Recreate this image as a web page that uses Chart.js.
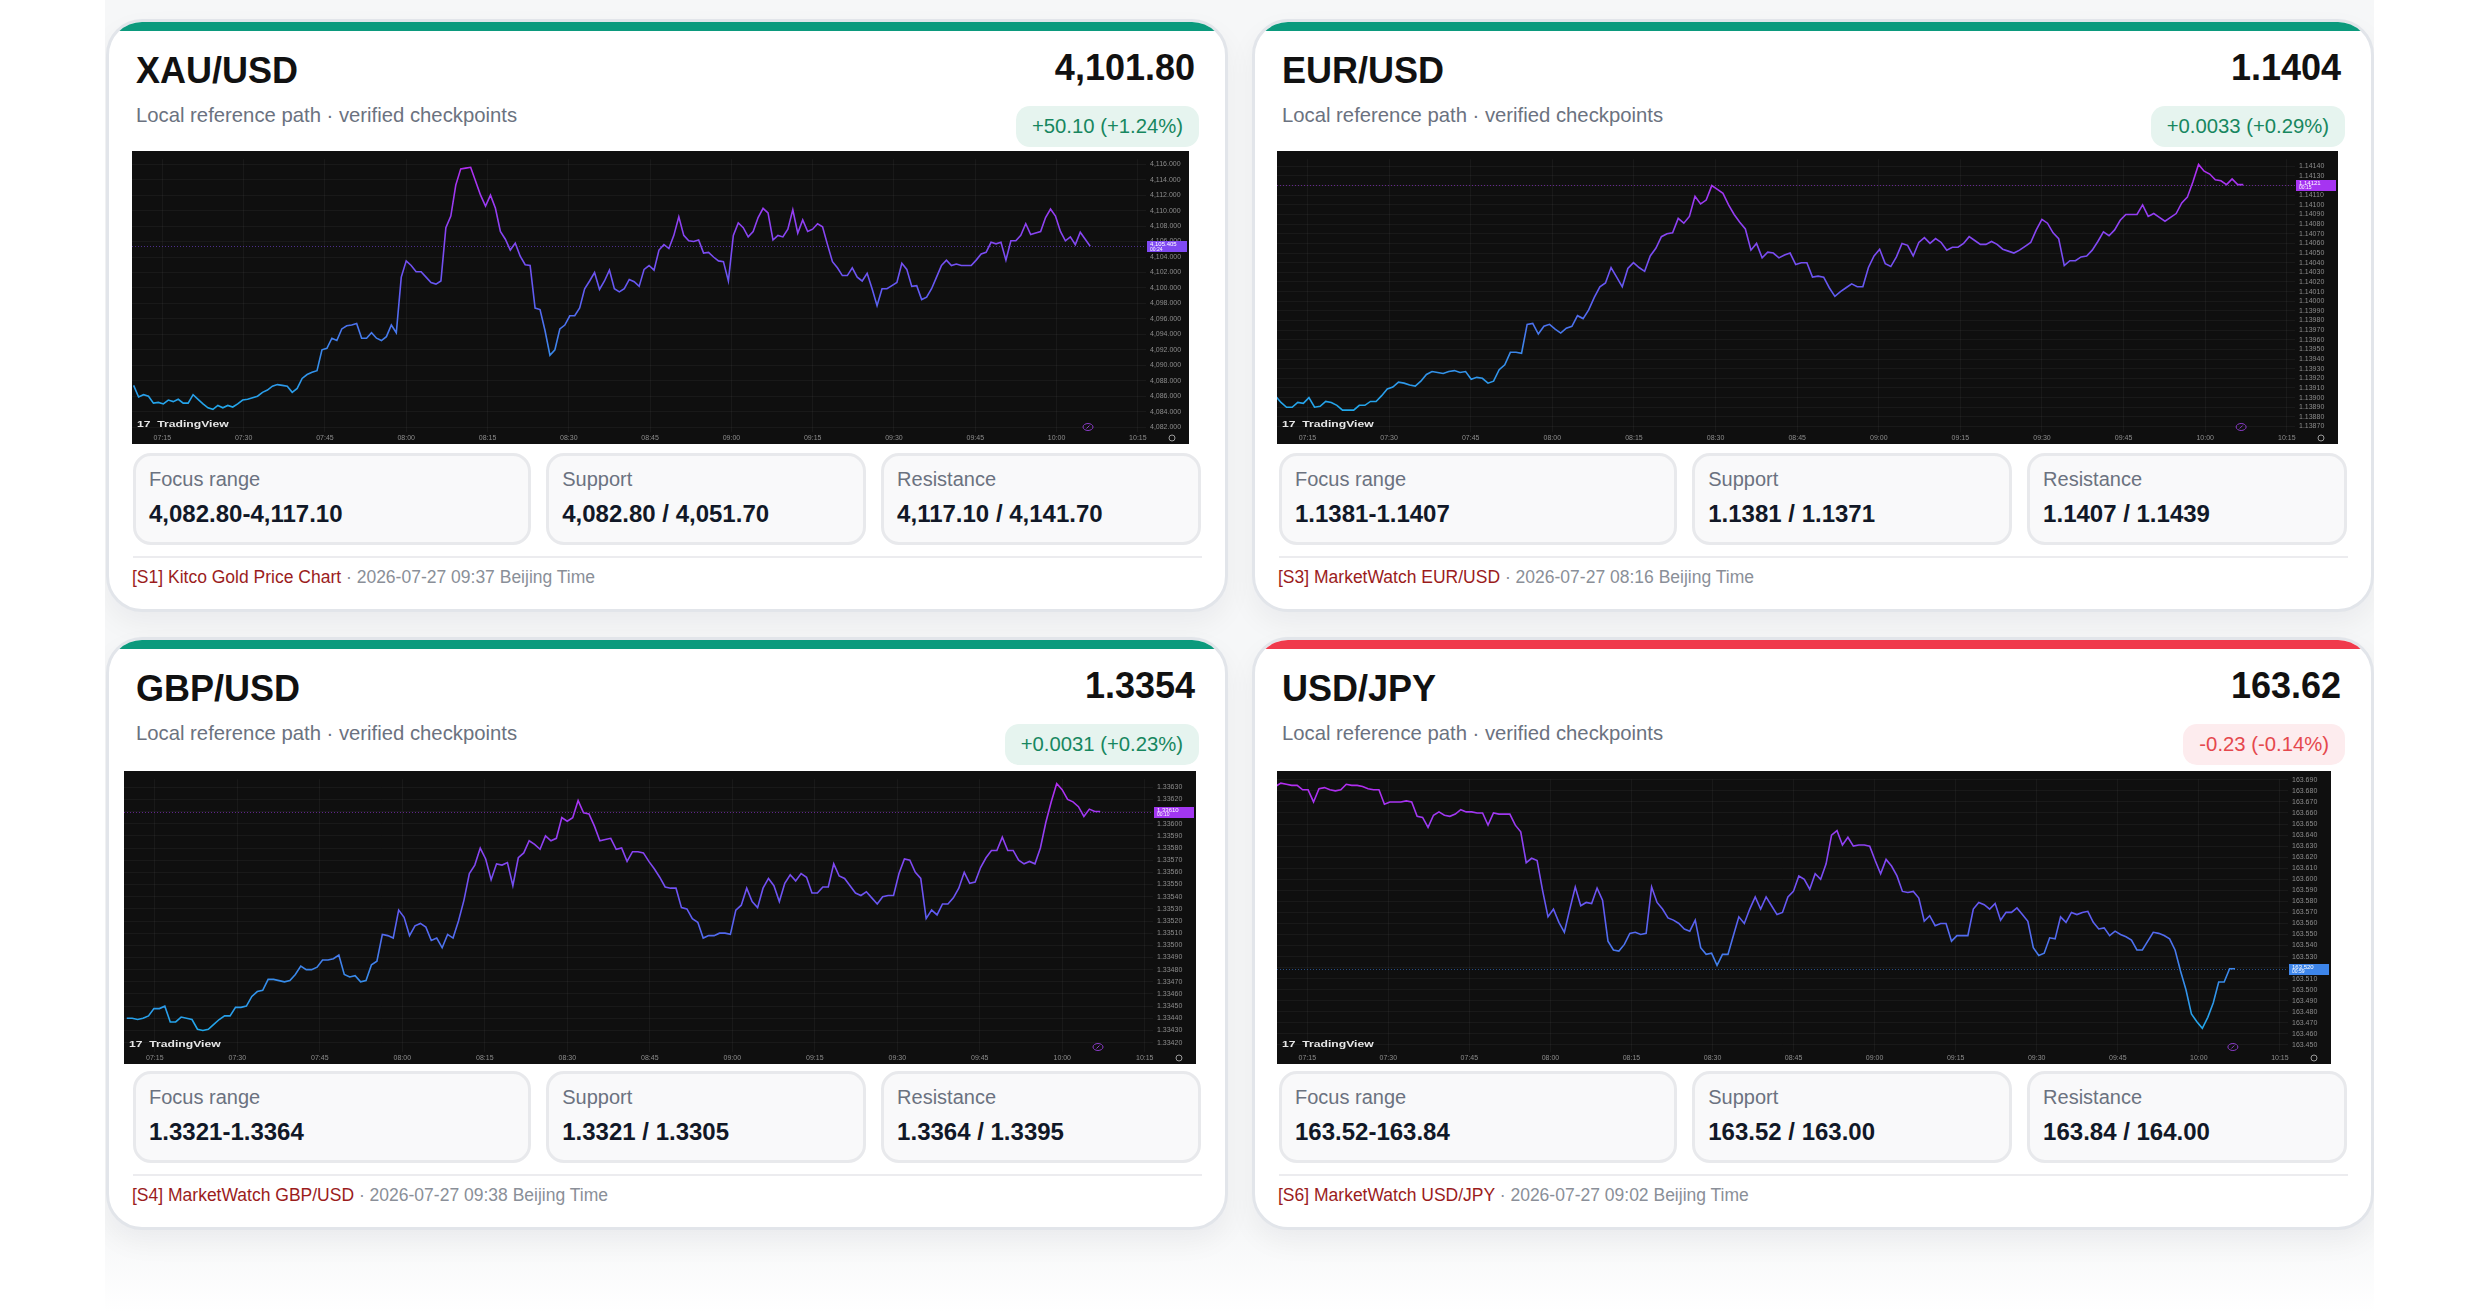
<!DOCTYPE html>
<html>
<head>
<meta charset="utf-8">
<script src="https://cdn.jsdelivr.net/npm/chart.js@4.4.1/dist/chart.umd.min.js"></script>
<style>
html, body { margin: 0; padding: 0; background: #fff; }
body { width: 2480px; height: 1313px; position: relative; overflow: hidden; font-family: "Liberation Sans", Arial, Helvetica, sans-serif; }
.stage { position: absolute; left: 105px; top: 0; width: 2269px; height: 1313px; overflow: hidden;
  background: linear-gradient(180deg, #f6f7f8 0, #f6f7f8 1228px, #fff 1313px); }
.card { position: absolute; width: 1122px; height: 593px; box-sizing: border-box; background: #fff;
  border: 3px solid #e2e5ea; border-radius: 36px; overflow: hidden; box-shadow: 0 12px 28px rgba(15, 23, 42, .05); }
.card::before { content: ""; position: absolute; left: 0; right: 0; top: 0; height: 9px; background: var(--accent); }
.title { position: absolute; left: 27px; top: 31px; font-size: 36px; line-height: 36px; font-weight: 700; color: #111; }
.price { position: absolute; right: 30px; top: 28px; font-size: 36px; line-height: 36px; font-weight: 700; color: #111; }
.sub { position: absolute; left: 27px; top: 83px; font-size: 20.3px; line-height: 20px; color: #6b7280; }
.badge { position: absolute; right: 26px; top: 84px; height: 41px; line-height: 41px; padding: 0 16px; border-radius: 14px; font-size: 20.3px; }
.up { background: #e6f4ef; color: #17875f; }
.down { background: #fdecee; color: #e5484d; }
.chart { position: absolute; height: 293px; background: #0f0f0f; }
.chart canvas { display: block; }
.stats { position: absolute; left: 24px; top: 431px; width: 1068px; height: 92px; display: grid;
  grid-template-columns: 1.245fr 1fr 1fr; column-gap: 15px; }
.stat { position: relative; box-sizing: border-box; border: 3px solid #e8e9ec; border-radius: 18px; background: #f9f9fa; }
.lab { position: absolute; left: 13px; top: 13px; font-size: 20px; line-height: 20px; color: #6b7280; }
.val { position: absolute; left: 13px; top: 46px; font-size: 24px; line-height: 24px; font-weight: 700; color: #111827; }
.rule { position: absolute; left: 24px; top: 534px; width: 1069px; height: 2px; background: #ececef; }
.src { position: absolute; left: 23px; top: 547px; font-size: 17.5px; line-height: 17.5px; color: #8a8f98; white-space: nowrap; }
.src .ref { color: #9b1c1c; }
</style>
</head>
<body>
<div class="stage">

  <div class="card" style="left:1px;top:19px;--accent:#0b9a7d">
    <div class="title">XAU/USD</div>
    <div class="price">4,101.80</div>
    <div class="sub">Local reference path · verified checkpoints</div>
    <div class="badge up">+50.10 (+1.24%)</div>
    <div class="chart" style="left:23px;top:129px;width:1057px"><canvas id="c1"></canvas></div>
    <div class="stats">
      <div class="stat"><div class="lab">Focus range</div><div class="val">4,082.80-4,117.10</div></div>
      <div class="stat"><div class="lab">Support</div><div class="val">4,082.80 / 4,051.70</div></div>
      <div class="stat"><div class="lab">Resistance</div><div class="val">4,117.10 / 4,141.70</div></div>
    </div>
    <div class="rule"></div>
    <div class="src"><span class="ref">[S1] Kitco Gold Price Chart</span> · 2026-07-27 09:37 Beijing Time</div>
  </div>

  <div class="card" style="left:1147px;top:19px;--accent:#0b9a7d">
    <div class="title">EUR/USD</div>
    <div class="price">1.1404</div>
    <div class="sub">Local reference path · verified checkpoints</div>
    <div class="badge up">+0.0033 (+0.29%)</div>
    <div class="chart" style="left:22px;top:129px;width:1061px"><canvas id="c2"></canvas></div>
    <div class="stats">
      <div class="stat"><div class="lab">Focus range</div><div class="val">1.1381-1.1407</div></div>
      <div class="stat"><div class="lab">Support</div><div class="val">1.1381 / 1.1371</div></div>
      <div class="stat"><div class="lab">Resistance</div><div class="val">1.1407 / 1.1439</div></div>
    </div>
    <div class="rule"></div>
    <div class="src"><span class="ref">[S3] MarketWatch EUR/USD</span> · 2026-07-27 08:16 Beijing Time</div>
  </div>

  <div class="card" style="left:1px;top:637px;--accent:#0b9a7d">
    <div class="title">GBP/USD</div>
    <div class="price">1.3354</div>
    <div class="sub">Local reference path · verified checkpoints</div>
    <div class="badge up">+0.0031 (+0.23%)</div>
    <div class="chart" style="left:15px;top:131px;width:1072px"><canvas id="c3"></canvas></div>
    <div class="stats">
      <div class="stat"><div class="lab">Focus range</div><div class="val">1.3321-1.3364</div></div>
      <div class="stat"><div class="lab">Support</div><div class="val">1.3321 / 1.3305</div></div>
      <div class="stat"><div class="lab">Resistance</div><div class="val">1.3364 / 1.3395</div></div>
    </div>
    <div class="rule"></div>
    <div class="src"><span class="ref">[S4] MarketWatch GBP/USD</span> · 2026-07-27 09:38 Beijing Time</div>
  </div>

  <div class="card" style="left:1147px;top:637px;--accent:#f03a4c">
    <div class="title">USD/JPY</div>
    <div class="price">163.62</div>
    <div class="sub">Local reference path · verified checkpoints</div>
    <div class="badge down">-0.23 (-0.14%)</div>
    <div class="chart" style="left:22px;top:131px;width:1054px"><canvas id="c4"></canvas></div>
    <div class="stats">
      <div class="stat"><div class="lab">Focus range</div><div class="val">163.52-163.84</div></div>
      <div class="stat"><div class="lab">Support</div><div class="val">163.52 / 163.00</div></div>
      <div class="stat"><div class="lab">Resistance</div><div class="val">163.84 / 164.00</div></div>
    </div>
    <div class="rule"></div>
    <div class="src"><span class="ref">[S6] MarketWatch USD/JPY</span> · 2026-07-27 09:02 Beijing Time</div>
  </div>

</div>
<script>
// shared time axis (minutes after 07:00 on the scale)
const timeTicks = ['07:15', '07:30', '07:45', '08:00', '08:15', '08:30', '08:45', '09:00', '09:15', '09:30', '09:45', '10:00', '10:15'];
const timeWindow = [9.4, 196.5];

// XAU/USD
const xauValues = [
  4087.4, 4085.9, 4086.2, 4086.0, 4085.1, 4085.2, 4085.0, 4085.5, 4085.3, 4085.6,
  4085.1, 4085.1, 4086.2, 4085.6, 4085.0, 4084.5, 4084.3, 4084.8, 4084.5, 4084.8,
  4084.6, 4085.0, 4085.5, 4085.6, 4085.8, 4086.0, 4086.5, 4086.8, 4087.3, 4087.5,
  4087.4, 4087.3, 4086.5, 4087.0, 4088.3, 4088.8, 4089.1, 4089.3, 4092.0, 4092.2,
  4093.5, 4093.2, 4094.7, 4095.1, 4095.2, 4095.4, 4093.5, 4093.5, 4094.2, 4093.5,
  4093.2, 4093.7, 4095.2, 4094.2, 4101.4, 4103.5, 4102.9, 4102.1, 4102.1, 4101.4,
  4100.7, 4100.5, 4100.9, 4107.8, 4109.3, 4113.3, 4115.4, 4115.5, 4115.6, 4113.8,
  4112.0, 4110.6, 4112.0, 4110.3, 4107.3, 4106.3, 4104.9, 4105.8, 4104.1, 4103.0,
  4102.9, 4097.4, 4097.2, 4094.5, 4091.3, 4092.0, 4094.7, 4095.2, 4096.4, 4096.4,
  4097.4, 4099.9, 4100.9, 4102.0, 4099.8, 4100.9, 4102.3, 4099.9, 4099.5, 4099.9,
  4101.1, 4100.8, 4100.2, 4102.4, 4102.9, 4102.3, 4104.9, 4105.6, 4105.1, 4106.8,
  4109.2, 4106.8, 4106.1, 4106.0, 4106.2, 4104.5, 4104.6, 4104.0, 4103.5, 4103.4,
  4100.9, 4106.8, 4108.4, 4107.8, 4106.6, 4107.3, 4109.1, 4110.3, 4109.7, 4106.2,
  4106.8, 4106.6, 4107.6, 4110.1, 4107.1, 4108.8, 4107.3, 4107.6, 4108.3, 4107.9,
  4105.6, 4103.4, 4102.6, 4101.6, 4101.6, 4102.6, 4101.4, 4100.9, 4101.9, 4099.9,
  4097.7, 4099.9, 4099.9, 4100.3, 4100.7, 4103.2, 4102.4, 4100.2, 4100.3, 4098.5,
  4098.8, 4099.9, 4101.4, 4102.9, 4103.6, 4102.9, 4103.1, 4102.9, 4102.9, 4102.9,
  4103.6, 4104.4, 4104.6, 4105.9, 4105.7, 4105.9, 4103.6, 4106.1, 4106.1, 4106.8,
  4108.3, 4106.9, 4107.1, 4107.3, 4109.1, 4110.2, 4109.3, 4107.3, 4106.1, 4106.6,
  4105.6, 4107.2, 4106.3, 4105.4
];
const xauTicks = ['4,082.000', '4,084.000', '4,086.000', '4,088.000', '4,090.000', '4,092.000', '4,094.000', '4,096.000', '4,098.000',
  '4,100.000', '4,102.000', '4,104.000', '4,106.000', '4,108.000', '4,110.000', '4,112.000', '4,114.000', '4,116.000'];
const xauRange = [4081.37, 4116.65];
const xauSpan = [9.7, 186.2];
const xauLast = ['4,105.405', '00:24'];

// EUR/USD
const eurValues = [
  1.13902, 1.13895, 1.13890, 1.13890, 1.13895, 1.13894, 1.13900, 1.13890, 1.13891, 1.13896,
  1.13895, 1.13892, 1.13887, 1.13887, 1.13887, 1.13892, 1.13892, 1.13896, 1.13896, 1.13902,
  1.13909, 1.13911, 1.13916, 1.13915, 1.13913, 1.13912, 1.13917, 1.13924, 1.13927, 1.13926,
  1.13925, 1.13927, 1.13928, 1.13926, 1.13927, 1.13919, 1.13921, 1.13920, 1.13915, 1.13917,
  1.13929, 1.13934, 1.13947, 1.13947, 1.13946, 1.13976, 1.13977, 1.13966, 1.13974, 1.13976,
  1.13971, 1.13967, 1.13972, 1.13974, 1.13985, 1.13982, 1.13991, 1.14004, 1.14015, 1.14019,
  1.14035, 1.14025, 1.14015, 1.14034, 1.14040, 1.14035, 1.14031, 1.14047, 1.14055, 1.14067,
  1.14070, 1.14071, 1.14086, 1.14081, 1.14088, 1.14109, 1.14101, 1.14105, 1.14120, 1.14116,
  1.14112, 1.14100, 1.14090, 1.14082, 1.14075, 1.14053, 1.14060, 1.14045, 1.14051, 1.14050,
  1.14045, 1.14048, 1.14050, 1.14038, 1.14040, 1.14040, 1.14025, 1.14026, 1.14025, 1.14014,
  1.14005, 1.14010, 1.14014, 1.14018, 1.14015, 1.14015, 1.14035, 1.14047, 1.14054, 1.14039,
  1.14036, 1.14046, 1.14060, 1.14058, 1.14047, 1.14061, 1.14066, 1.14060, 1.14065, 1.14061,
  1.14053, 1.14056, 1.14056, 1.14060, 1.14067, 1.14063, 1.14059, 1.14059, 1.14062, 1.14059,
  1.14054, 1.14052, 1.14050, 1.14053, 1.14057, 1.14061, 1.14074, 1.14085, 1.14081, 1.14071,
  1.14065, 1.14037, 1.14042, 1.14042, 1.14046, 1.14047, 1.14053, 1.14062, 1.14072, 1.14068,
  1.14074, 1.14084, 1.14090, 1.14090, 1.14090, 1.14100, 1.14088, 1.14091, 1.14087, 1.14083,
  1.14087, 1.14091, 1.14102, 1.14108, 1.14124, 1.14142, 1.14135, 1.14132, 1.14126, 1.14125,
  1.14121, 1.14127, 1.14121, 1.14121
];
const eurTicks = ['1.13870', '1.13880', '1.13890', '1.13900', '1.13910', '1.13920', '1.13930', '1.13940', '1.13950', '1.13960',
  '1.13970', '1.13980', '1.13990', '1.14000', '1.14010', '1.14020', '1.14030', '1.14040', '1.14050', '1.14060',
  '1.14070', '1.14080', '1.14090', '1.14100', '1.14110', '1.14120', '1.14130', '1.14140'];
const eurRange = [1.138643, 1.141474];
const eurSpan = [9.1, 187.0];
const eurLast = ['1.14121', '00:15'];

// GBP/USD
const gbpValues = [
  1.33440, 1.33440, 1.33439, 1.33440, 1.33442, 1.33448, 1.33448, 1.33450, 1.33437, 1.33437,
  1.33441, 1.33440, 1.33439, 1.33431, 1.33430, 1.33431, 1.33435, 1.33439, 1.33442, 1.33442,
  1.33449, 1.33449, 1.33450, 1.33458, 1.33462, 1.33463, 1.33472, 1.33472, 1.33471, 1.33470,
  1.33471, 1.33476, 1.33483, 1.33480, 1.33480, 1.33482, 1.33488, 1.33488, 1.33489, 1.33492,
  1.33476, 1.33474, 1.33475, 1.33470, 1.33471, 1.33484, 1.33487, 1.33509, 1.33508, 1.33506,
  1.33529, 1.33523, 1.33508, 1.33516, 1.33518, 1.33515, 1.33504, 1.33506, 1.33498, 1.33509,
  1.33506, 1.33520, 1.33537, 1.33559, 1.33566, 1.33580, 1.33571, 1.33554, 1.33567, 1.33566,
  1.33568, 1.33549, 1.33572, 1.33576, 1.33586, 1.33583, 1.33579, 1.33590, 1.33586, 1.33588,
  1.33605, 1.33602, 1.33605, 1.33619, 1.33609, 1.33608, 1.33598, 1.33586, 1.33587, 1.33588,
  1.33579, 1.33580, 1.33569, 1.33577, 1.33577, 1.33576, 1.33569, 1.33563, 1.33556, 1.33548,
  1.33547, 1.33547, 1.33531, 1.33530, 1.33522, 1.33519, 1.33506, 1.33508, 1.33508, 1.33510,
  1.33510, 1.33509, 1.33529, 1.33533, 1.33547, 1.33536, 1.33531, 1.33547, 1.33555, 1.33549,
  1.33536, 1.33551, 1.33558, 1.33553, 1.33559, 1.33556, 1.33543, 1.33543, 1.33548, 1.33548,
  1.33567, 1.33557, 1.33555, 1.33549, 1.33543, 1.33541, 1.33544, 1.33539, 1.33534, 1.33540,
  1.33541, 1.33541, 1.33559, 1.33571, 1.33570, 1.33560, 1.33555, 1.33522, 1.33529, 1.33525,
  1.33534, 1.33534, 1.33539, 1.33547, 1.33560, 1.33551, 1.33552, 1.33564, 1.33572, 1.33578,
  1.33578, 1.33589, 1.33578, 1.33578, 1.33570, 1.33567, 1.33569, 1.33567, 1.33580, 1.33601,
  1.33618, 1.33633, 1.33628, 1.33620, 1.33618, 1.33614, 1.33606, 1.33612, 1.33610, 1.33610
];
const gbpTicks = ['1.33420', '1.33430', '1.33440', '1.33450', '1.33460', '1.33470', '1.33480', '1.33490', '1.33500', '1.33510',
  '1.33520', '1.33530', '1.33540', '1.33550', '1.33560', '1.33570', '1.33580', '1.33590', '1.33600', '1.33610',
  '1.33620', '1.33630'];
const gbpRange = [1.334123, 1.336366];
const gbpSpan = [9.9, 186.9];
const gbpLast = ['1.33610', '00:10'];

// USD/JPY
const jpyValues = [
  163.684, 163.687, 163.686, 163.685, 163.685, 163.681, 163.681, 163.670, 163.682, 163.683,
  163.681, 163.680, 163.681, 163.686, 163.685, 163.685, 163.684, 163.682, 163.681, 163.681,
  163.668, 163.670, 163.670, 163.670, 163.671, 163.670, 163.657, 163.656, 163.647, 163.658,
  163.661, 163.658, 163.657, 163.659, 163.663, 163.661, 163.661, 163.660, 163.660, 163.649,
  163.660, 163.659, 163.659, 163.659, 163.649, 163.643, 163.615, 163.619, 163.617, 163.590,
  163.566, 163.573, 163.561, 163.552, 163.573, 163.593, 163.576, 163.579, 163.578, 163.592,
  163.581, 163.544, 163.536, 163.535, 163.541, 163.551, 163.552, 163.550, 163.551, 163.593,
  163.579, 163.573, 163.565, 163.563, 163.560, 163.555, 163.553, 163.563, 163.538, 163.532,
  163.533, 163.522, 163.532, 163.532, 163.549, 163.566, 163.560, 163.573, 163.584, 163.573,
  163.584, 163.576, 163.568, 163.570, 163.584, 163.589, 163.603, 163.600, 163.591, 163.605,
  163.600, 163.614, 163.640, 163.644, 163.631, 163.638, 163.630, 163.631, 163.631, 163.630,
  163.617, 163.605, 163.618, 163.612, 163.603, 163.589, 163.588, 163.589, 163.583, 163.562,
  163.567, 163.558, 163.560, 163.560, 163.544, 163.549, 163.549, 163.549, 163.573, 163.579,
  163.577, 163.573, 163.578, 163.563, 163.570, 163.570, 163.574, 163.568, 163.562, 163.538,
  163.531, 163.533, 163.547, 163.546, 163.566, 163.561, 163.570, 163.568, 163.570, 163.571,
  163.561, 163.555, 163.556, 163.549, 163.553, 163.550, 163.548, 163.545, 163.536, 163.536,
  163.544, 163.552, 163.551, 163.549, 163.546, 163.536, 163.517, 163.500, 163.478, 163.471,
  163.465, 163.475, 163.488, 163.507, 163.507, 163.519, 163.519
];
const jpyTicks = ['163.450', '163.460', '163.470', '163.480', '163.490', '163.500', '163.510', '163.520', '163.530', '163.540',
  '163.550', '163.560', '163.570', '163.580', '163.590', '163.600', '163.610', '163.620', '163.630', '163.640',
  '163.650', '163.660', '163.670', '163.680', '163.690'];
const jpyRange = [163.4436, 163.6906];
const jpySpan = [9.1, 186.7];
const jpyLast = ['163.520', '00:59'];

// line colour runs from blue (low) to purple (high)
const lineStops = [[0, '#18b4ea'], [0.3, '#3c86ea'], [0.5, '#5e5cf2'], [0.75, '#8c42f2'], [1, '#b52cf0']];

function hexRgb(h) {
  return [1, 3, 5].map(i => parseInt(h.slice(i, i + 2), 16));
}
function colorAt(f) {
  f = Math.max(0, Math.min(1, f));
  for (let i = 1; i < lineStops.length; i++) {
    const [f1, c1] = lineStops[i];
    const [f0, c0] = lineStops[i - 1];
    if (f <= f1) {
      const t = (f - f0) / (f1 - f0), a = hexRgb(c0), b = hexRgb(c1);
      return 'rgb(' + a.map((v, k) => Math.round(v + (b[k] - v) * t)).join(',') + ')';
    }
  }
  return lineStops[lineStops.length - 1][1];
}
function toMinutes(s) {
  const [h, m] = s.split(':').map(Number);
  return (h - 7) * 60 + m;
}
function num(s) {
  return parseFloat(s.replace(/,/g, ''));
}

// dotted last-price line, price tag, logo and small icons
const tvExtras = {
  id: 'tvExtras',
  beforeDatasetsDraw(chart, args, o) {
    const a = chart.chartArea, c = chart.ctx;
    const y = Math.round(chart.scales.y.getPixelForValue(o.lastValue)) + 0.5;
    c.save();
    c.strokeStyle = o.tagColor;
    c.globalAlpha = 0.55;
    c.lineWidth = 1;
    c.setLineDash([1, 2]);
    c.beginPath();
    c.moveTo(a.left, y);
    c.lineTo(a.right, y);
    c.stroke();
    c.restore();
  },
  afterDraw(chart, args, o) {
    const a = chart.chartArea, c = chart.ctx, w = chart.width;
    const y = chart.scales.y.getPixelForValue(o.lastValue);
    c.save();
    // price tag
    c.fillStyle = o.tagColor;
    c.fillRect(a.right + 1, Math.round(y - 5), w - a.right - 3, 11);
    c.fillStyle = '#fff';
    c.font = '6px "Liberation Sans", Arial';
    c.textBaseline = 'middle';
    c.fillText(o.tag[0], a.right + 4, y - 1.5);
    c.font = '5px "Liberation Sans", Arial';
    c.fillText(o.tag[1], a.right + 4, y + 3);
    // logo
    c.fillStyle = '#e6e6e6';
    c.textBaseline = 'alphabetic';
    c.translate(a.left + 5, a.bottom - 5);
    c.scale(1.35, 1);
    c.font = '900 9px "Liberation Sans", Arial';
    c.fillText('17', 0, 0);
    c.font = 'bold 9px "Liberation Sans", Arial';
    c.fillText('TradingView', 15, 0);
    c.restore();
    // replay marker
    c.save();
    const mx = chart.scales.x.getPixelForValue(o.markerMinute);
    c.strokeStyle = '#8a3cc8';
    c.lineWidth = 1;
    c.beginPath();
    c.ellipse(mx, a.bottom - 5, 5, 3.5, 0, 0, Math.PI * 2);
    c.stroke();
    c.beginPath();
    c.moveTo(mx - 1.5, a.bottom - 3.5);
    c.lineTo(mx + 1.5, a.bottom - 6.5);
    c.stroke();
    // settings icon
    c.strokeStyle = '#9a9a9a';
    c.beginPath();
    c.arc(w - 17, a.bottom + 6, 3, 0, Math.PI * 2);
    c.stroke();
    c.restore();
  }
};

function makeChart(id, values, ticks, range, span, last) {
  const step = (span[1] - span[0]) / (values.length - 1);
  const points = values.map((v, i) => ({ x: span[0] + i * step, y: v }));
  const lastValue = values[values.length - 1];
  const tagColor = colorAt((lastValue - range[0]) / (range[1] - range[0]));
  const gridColor = 'rgba(255,255,255,0.045)';
  const tickFont = { family: '"Liberation Sans", Arial', size: 7 };

  new Chart(document.getElementById(id), {
    type: 'line',
    data: {
      datasets: [{
        data: points,
        borderWidth: 1.6,
        pointRadius: 0,
        tension: 0,
        fill: false,
        borderColor: ctx => {
          const ch = ctx.chart, ar = ch.chartArea;
          if (!ar) return '#6a4cf0';
          const g = ch.ctx.createLinearGradient(0, ar.bottom, 0, ar.top);
          lineStops.forEach(s => g.addColorStop(s[0], s[1]));
          return g;
        }
      }]
    },
    options: {
      responsive: true,
      maintainAspectRatio: false,
      animation: false,
      layout: { padding: 0 },
      plugins: {
        legend: { display: false },
        tooltip: { enabled: false },
        tvExtras: { lastValue: lastValue, tag: last, tagColor: tagColor, markerMinute: span[1] - 0.4 }
      },
      scales: {
        x: {
          type: 'linear',
          min: timeWindow[0],
          max: timeWindow[1],
          afterBuildTicks: s => { s.ticks = timeTicks.map(t => ({ value: toMinutes(t) })); },
          afterFit: s => { s.height = 12; },
          ticks: {
            callback: (v, i) => timeTicks[i],
            color: '#8c8c8c',
            font: tickFont,
            padding: 2,
            maxRotation: 0,
            autoSkip: false
          },
          grid: { color: gridColor, drawTicks: false },
          border: { display: false }
        },
        y: {
          position: 'right',
          min: range[0],
          max: range[1],
          afterBuildTicks: s => { s.ticks = ticks.map(t => ({ value: num(t) })); },
          afterFit: s => { s.width = 43; },
          ticks: {
            callback: (v, i) => ticks[i],
            color: '#8c8c8c',
            font: tickFont,
            padding: 4,
            autoSkip: false
          },
          grid: { color: gridColor, drawTicks: false },
          border: { display: false }
        }
      }
    },
    plugins: [tvExtras]
  });
}

makeChart('c1', xauValues, xauTicks, xauRange, xauSpan, xauLast);
makeChart('c2', eurValues, eurTicks, eurRange, eurSpan, eurLast);
makeChart('c3', gbpValues, gbpTicks, gbpRange, gbpSpan, gbpLast);
makeChart('c4', jpyValues, jpyTicks, jpyRange, jpySpan, jpyLast);
</script>
</body>
</html>
